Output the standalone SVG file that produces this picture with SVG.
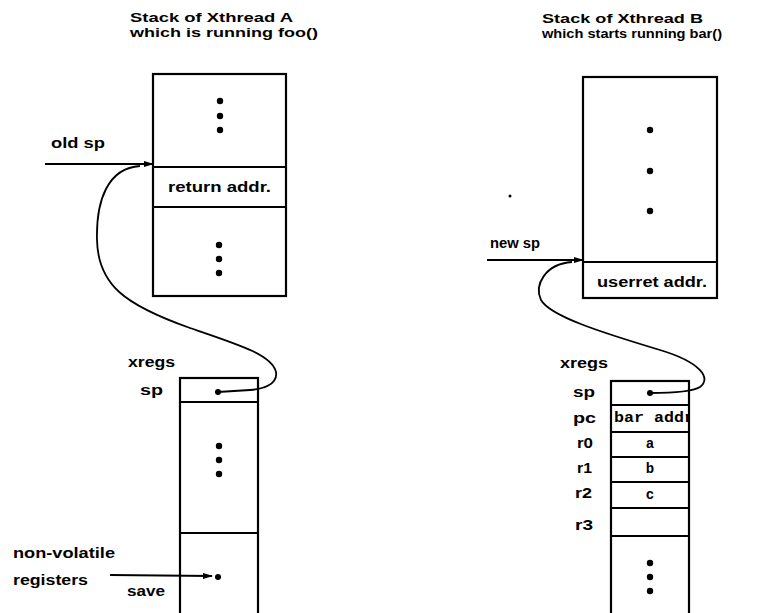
<svg xmlns="http://www.w3.org/2000/svg" width="768" height="613" viewBox="0 0 768 613">
<style>
.t{font-family:"Liberation Sans",Arial,sans-serif;font-weight:bold;font-size:14px;fill:#000}
.h{font-family:"Liberation Sans",Arial,sans-serif;font-weight:bold;font-size:13px;fill:#000}
.m{font-family:"Liberation Mono","Courier New",monospace;font-weight:bold;font-size:14px;fill:#000}
.box{fill:#fff;stroke:#000;stroke-width:2.2}
.ln{stroke:#000;stroke-width:2;fill:none}
.c{fill:none;stroke:#000;stroke-width:1.8}
</style>
<defs>
<marker id="ah" markerWidth="10" markerHeight="8" refX="9" refY="4" orient="auto" markerUnits="userSpaceOnUse">
<path d="M0,1 L10,4 L0,7 Z" fill="#000"/>
</marker>
<clipPath id="pcclip"><rect x="612" y="406" width="77" height="26"/></clipPath>
</defs>

<g id="titleA">
<text class="h" x="130" y="22" textLength="163" lengthAdjust="spacingAndGlyphs">Stack of Xthread A</text>
<text class="h" x="130" y="37" textLength="188" lengthAdjust="spacingAndGlyphs">which is running foo()</text>
</g>
<g id="titleB">
<text class="h" x="542" y="23" textLength="161" lengthAdjust="spacingAndGlyphs">Stack of Xthread B</text>
<text class="h" x="542" y="38" textLength="180" lengthAdjust="spacingAndGlyphs">which starts running bar()</text>
</g>

<g id="stackA">
<rect class="box" x="153" y="74" width="133" height="222"/>
<line class="ln" x1="153" y1="167" x2="286" y2="167"/>
<line class="ln" x1="153" y1="207" x2="286" y2="207"/>
<text class="t" x="168" y="192" textLength="103" lengthAdjust="spacingAndGlyphs">return addr.</text>
<circle cx="220" cy="101" r="3.2"/><circle cx="220" cy="116" r="3.2"/><circle cx="220" cy="130" r="3.2"/>
<circle cx="219" cy="245" r="3.2"/><circle cx="219" cy="259" r="3.2"/><circle cx="219" cy="273" r="3.2"/>
</g>

<g id="oldsp">
<text class="t" x="51" y="148" textLength="54" lengthAdjust="spacingAndGlyphs">old sp</text>
</g>

<g id="xregsA">
<text class="t" x="128" y="367" textLength="47" lengthAdjust="spacingAndGlyphs">xregs</text>
<text class="t" x="140" y="395" textLength="23" lengthAdjust="spacingAndGlyphs">sp</text>
<rect class="box" x="180" y="378" width="78" height="245"/>
<line class="ln" x1="180" y1="402" x2="258" y2="402"/>
<line class="ln" x1="180" y1="533" x2="258" y2="533"/>
<circle cx="218" cy="392" r="3"/>
<circle cx="219" cy="446" r="3.2"/><circle cx="219" cy="460" r="3.2"/><circle cx="219" cy="474" r="3.2"/>
<circle cx="218" cy="577" r="3"/>
</g>

<g id="nonvolatile">
<text class="t" x="13" y="558" textLength="102" lengthAdjust="spacingAndGlyphs">non-volatile</text>
<text class="t" x="13" y="585" textLength="75" lengthAdjust="spacingAndGlyphs">registers</text>
<text class="t" x="127" y="596" textLength="38" lengthAdjust="spacingAndGlyphs">save</text>
</g>

<g id="stackB">
<rect class="box" x="583" y="77" width="134" height="221"/>
<line class="ln" x1="583" y1="262" x2="717" y2="262"/>
<text class="t" x="597" y="287" textLength="110" lengthAdjust="spacingAndGlyphs">userret addr.</text>
<circle cx="650" cy="130" r="3.2"/><circle cx="650" cy="171" r="3.2"/><circle cx="650" cy="211" r="3.2"/>
<circle cx="510" cy="196" r="1.5"/>
</g>

<g id="newsp">
<text class="t" x="490" y="248" textLength="50" lengthAdjust="spacingAndGlyphs">new sp</text>
</g>

<g id="xregsB">
<text class="t" x="560" y="368" textLength="48" lengthAdjust="spacingAndGlyphs">xregs</text>
<text class="t" x="573" y="397" textLength="22" lengthAdjust="spacingAndGlyphs">sp</text>
<text class="t" x="573" y="423" textLength="23" lengthAdjust="spacingAndGlyphs">pc</text>
<text class="t" x="577" y="448" textLength="16" lengthAdjust="spacingAndGlyphs">r0</text>
<text class="t" x="577" y="473" textLength="15" lengthAdjust="spacingAndGlyphs">r1</text>
<text class="t" x="575" y="498" textLength="17" lengthAdjust="spacingAndGlyphs">r2</text>
<text class="t" x="575" y="530" textLength="18" lengthAdjust="spacingAndGlyphs">r3</text>
<rect class="box" x="611" y="381" width="78" height="242"/>
<line class="ln" x1="611" y1="405" x2="689" y2="405"/>
<line class="ln" x1="611" y1="432" x2="689" y2="432"/>
<line class="ln" x1="611" y1="457" x2="689" y2="457"/>
<line class="ln" x1="611" y1="482" x2="689" y2="482"/>
<line class="ln" x1="611" y1="508" x2="689" y2="508"/>
<line class="ln" x1="611" y1="536" x2="689" y2="536"/>
<circle cx="650" cy="393" r="3"/>
<text class="m" x="614" y="422" clip-path="url(#pcclip)" textLength="80" lengthAdjust="spacingAndGlyphs">bar addr</text>
<text class="m" x="650" y="448" text-anchor="middle">a</text>
<text class="m" x="650" y="473" text-anchor="middle">b</text>
<text class="m" x="650" y="499" text-anchor="middle">c</text>
<circle cx="650" cy="563" r="3.2"/><circle cx="650" cy="577" r="3.2"/><circle cx="650" cy="591" r="3.2"/>
</g>

<g id="connectors">
<line class="ln" x1="45" y1="164" x2="153" y2="164" marker-end="url(#ah)"/>
<path class="c" d="M 140 166 C 108 168, 96 200, 97 240 C 98 285, 125 305, 190 328 C 240 345, 272 355, 276 372 C 278 385, 262 389, 250 390 L 218 392"/>
<line class="ln" x1="110" y1="575" x2="212" y2="576" marker-end="url(#ah)"/>
<line class="ln" x1="487" y1="260" x2="583" y2="260" marker-end="url(#ah)"/>
<path class="c" d="M 572 262 C 545 264, 534 285, 541 300 C 550 316, 600 332, 660 350 C 700 362, 712 378, 700 387 C 692 392, 672 393, 650 393"/>
</g>
</svg>
